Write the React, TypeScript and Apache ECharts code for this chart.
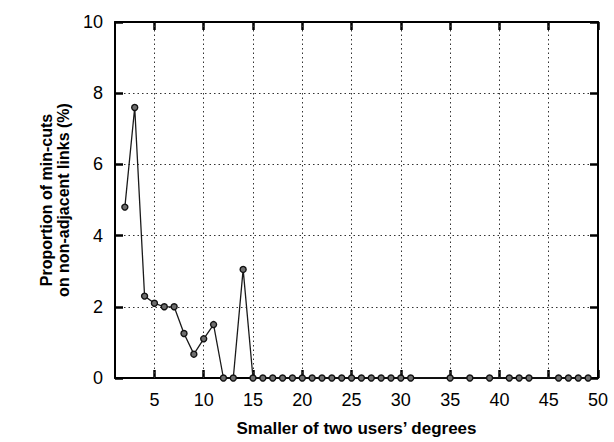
import React, { useEffect, useRef } from "react";
import * as echarts from "echarts";

const degrees = [
  2, 3, 4, 5, 6, 7, 8, 9, 10, 11, 12, 13, 14, 15, 16, 17, 18, 19, 20, 21, 22, 23, 24, 25, 26, 27, 28, 29, 30, 31,
  35, 37, 39, 41, 42, 43, 46, 47, 48, 49,
];
const proportions = [
  4.8, 7.6, 2.3, 2.1, 2.0, 2.0, 1.25, 0.67, 1.1, 1.5, 0, 0, 3.05, 0, 0, 0, 0, 0, 0, 0, 0, 0, 0, 0, 0, 0, 0, 0, 0, 0,
  0, 0, 0, 0, 0, 0, 0, 0, 0, 0,
];
const xTicks = [5, 10, 15, 20, 25, 30, 35, 40, 45, 50];
const xGridTicks = [5, 10, 15, 20, 25, 30, 35, 40, 45];

const X_MIN = 1;
const X_MAX = 50;
const Y_MIN = 0;
const Y_MAX = 10;

const FONT = "'Liberation Sans', Arial, Helvetica, sans-serif";
const INK = "#000";

export default function App() {
  const ref = useRef<HTMLDivElement>(null);
  useEffect(() => {
    if (!ref.current) return;
    const chart = echarts.init(ref.current, null, { renderer: "svg" });
    const data = degrees.map((d, i) => [d, proportions[i]]);
    const tick = { show: true, inside: true, length: 8, lineStyle: { color: INK, width: 2.5 } };

    chart.setOption({
      animation: false,
      backgroundColor: "#fff",
      grid: { left: 115, right: 16, top: 22, bottom: 62, containLabel: false },
      xAxis: [
        {
          type: "value",
          min: X_MIN,
          max: X_MAX,
          name: "Smaller of two users\u2019 degrees",
          nameLocation: "middle",
          nameGap: 42,
          nameTextStyle: { fontFamily: FONT, fontWeight: "bold", fontSize: 17, color: INK },
          axisLine: { show: true, onZero: false, lineStyle: { color: INK, width: 2 } },
          axisTick: { ...tick, customValues: xTicks },
          axisLabel: { fontFamily: FONT, fontSize: 18, color: INK, margin: 13, customValues: xTicks },
          splitLine: { show: false },
        },
        {
          type: "value",
          min: X_MIN,
          max: X_MAX,
          position: "top",
          axisLine: { show: true, onZero: false, lineStyle: { color: INK, width: 2 } },
          axisTick: { ...tick, customValues: xTicks },
          axisLabel: { show: false },
          splitLine: { show: false },
        },
      ],
      yAxis: [
        {
          type: "value",
          min: Y_MIN,
          max: Y_MAX,
          interval: 2,
          name: "Proportion of min-cuts\non non-adjacent links (%)",
          nameLocation: "middle",
          nameGap: 38,
          nameTextStyle: { fontFamily: FONT, fontWeight: "bold", fontSize: 16, color: INK, lineHeight: 17 },
          axisLine: { show: true, onZero: false, lineStyle: { color: INK, width: 2 } },
          axisTick: tick,
          axisLabel: { fontFamily: FONT, fontSize: 18, color: INK, margin: 12 },
          splitLine: { show: true, lineStyle: { color: "#333", width: 1, type: [1.5, 3] } },
        },
        {
          type: "value",
          min: Y_MIN,
          max: Y_MAX,
          interval: 2,
          position: "right",
          axisLine: { show: true, onZero: false, lineStyle: { color: INK, width: 2 } },
          axisTick: tick,
          axisLabel: { show: false },
          splitLine: { show: false },
        },
      ],
      series: [
        {
          type: "line",
          data: [],
          xAxisIndex: 0,
          yAxisIndex: 0,
          silent: true,
          z: 1,
          markLine: {
            silent: true,
            symbol: "none",
            label: { show: false },
            lineStyle: { color: "#333", width: 1, type: [1.5, 3] },
            data: xGridTicks.map((v) => ({ xAxis: v })),
          },
        },
        {
          type: "line",
          data,
          xAxisIndex: 0,
          yAxisIndex: 0,
          symbol: "circle",
          symbolSize: 6,
          showSymbol: true,
          lineStyle: { color: "#1a1a1a", width: 1.3 },
          itemStyle: { color: "#6e6e6e", borderColor: "#111", borderWidth: 1.4 },
          z: 5,
        },
      ],
    });
    return () => chart.dispose();
  }, []);
  return <div ref={ref} style={{ width: 614, height: 442, position: "absolute", left: 0, top: 0 }} />;
}
